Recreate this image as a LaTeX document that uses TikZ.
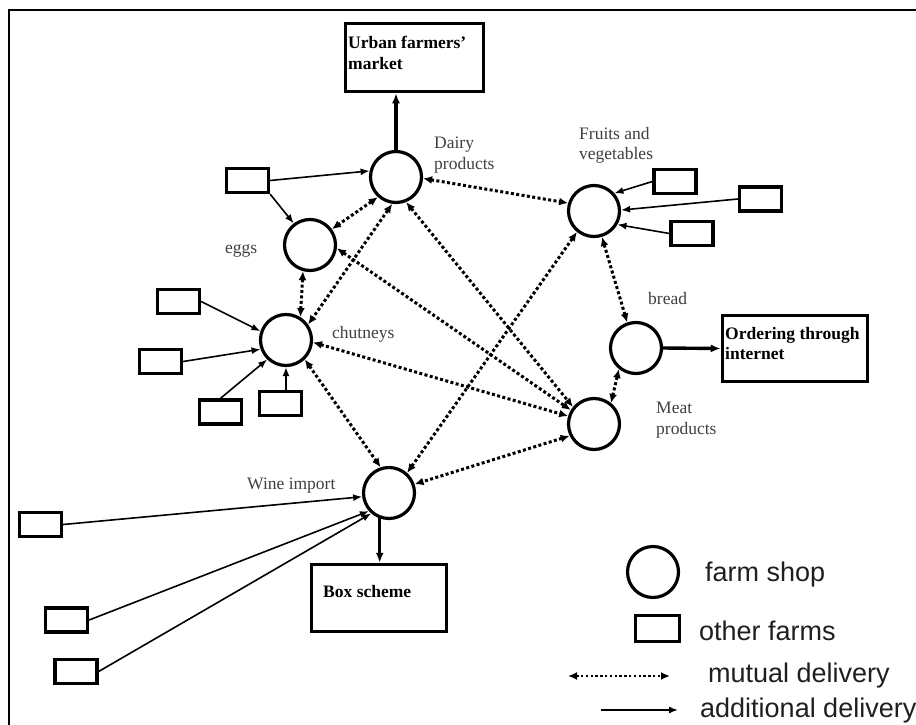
\documentclass[tikz,border=0pt]{standalone}
\usepackage{fontspec}
\setmainfont{Liberation Serif}
\newfontfamily\legendfont{Liberation Sans}
\usetikzlibrary{arrows.meta,calc}

\begin{document}
\begin{tikzpicture}[x=1pt,y=-1pt,
  shop/.style={circle,draw,line width=3.2pt,minimum size=51pt,inner sep=0pt},
  farm/.style={rectangle,draw,line width=3.3pt,minimum width=42pt,minimum height=24pt,inner sep=0pt},
  outlet/.style={rectangle,draw,line width=3.5pt,inner sep=0pt},
  mutual/.style={line width=3pt,dash pattern=on 3pt off 2.4pt,
    {Latex[length=9pt,width=8pt]}-{Latex[length=9pt,width=8pt]}},
  additional/.style={line width=1.6pt,-{Latex[length=9pt,width=7pt]}},
  output/.style={line width=3.4pt,-{Latex[length=10pt,width=8pt]}},
  lbl/.style={font=\fontsize{17.5}{20.5}\selectfont,text=black!75,align=left,inner sep=0pt},
  boxlbl/.style={font=\fontsize{17.5}{20.5}\selectfont\bfseries,align=left,inner sep=0pt,anchor=north west},
  legendtext/.style={font=\legendfont\fontsize{27}{30}\selectfont,text=black!88,anchor=base west,inner sep=0pt}
]
\useasboundingbox (0,0) rectangle (916,725);
\fill[white] (0,0) rectangle (916,725);

% frame
\draw[line width=2.4pt] (9,725) -- (9,10) -- (916,10);

% farm shops
\node[shop] (D) at (396,177) {};
\node[shop] (E) at (310,245) {};
\node[shop] (C) at (286,340) {};
\node[shop] (F) at (594,211) {};
\node[shop] (B) at (636,348) {};
\node[shop] (M) at (594,424) {};
\node[shop] (W) at (389,493) {};

% shop labels
\node[lbl,anchor=north west] at (434,137) {Dairy\\products};
\node[lbl,anchor=north west] at (579,127) {Fruits and\\vegetables};
\node[lbl,anchor=base west] at (225,253) {eggs};
\node[lbl,anchor=base west] at (332,338) {chutneys};
\node[lbl,anchor=base west] at (648,304) {bread};
\node[lbl,anchor=north west] at (656,402) {Meat\\products};
\node[lbl,anchor=base west] at (247,489) {Wine import};

% outlets
\node[outlet,minimum width=138pt,minimum height=68pt] (U) at (414.5,57.5) {};
\node[boxlbl] at (348,36) {Urban farmers'\\market};
\node[outlet,minimum width=145pt,minimum height=66pt] (O) at (795,348.5) {};
\node[boxlbl] at (725,327) {Ordering through\\internet};
\node[outlet,minimum width=135pt,minimum height=67pt] (BS) at (379,598) {};
\node[boxlbl] at (323,585) {Box scheme};

% other farms
\node[farm] (BDE) at (247.5,180.5) {};
\node[farm] (F1) at (675,181.5) {};
\node[farm] (F2) at (760.5,199) {};
\node[farm] (F3) at (692,233.5) {};
\node[farm] (C1) at (178.5,301.5) {};
\node[farm] (C2) at (160.5,361.5) {};
\node[farm] (C3) at (220.5,412) {};
\node[farm] (C4) at (280.5,403.5) {};
\node[farm] (W1) at (40.5,524.5) {};
\node[farm] (W2) at (66.5,620) {};
\node[farm] (W3) at (76,671.5) {};

% additional deliveries
\draw[additional] (BDE.east) -- (D.167);
\draw[additional] (BDE.south east) -- (E.127);
\draw[additional] (F1.west) -- (F.41);
\draw[additional] (F2.west) -- (F.2);
\draw[additional] (F3.west) -- (F.-30);
\draw[additional] (C1.east) -- (C.161);
\draw[additional] (C2.east) -- (C.200);
\draw[additional] (C3.north) -- (C.226);
\draw[additional] (C.south |- C4.north) -- (C.south);
\draw[additional] (W1.east) -- (W.188);
\draw[additional] (W2.east) -- (W.222);
\draw[additional] (W3.east) -- (W.229);

% mutual deliveries
\draw[mutual] (D.-3) -- (F.163);
\draw[mutual] (D.228) -- (E.36);
\draw[mutual] (D.262) -- (C.35);
\draw[mutual] (D.-68) -- (M.141);
\draw[mutual] (E.255) -- (C.58);
\draw[mutual] (E.-7) -- (M.149);
\draw[mutual] (C.-5) -- (M.163);
\draw[mutual] (C.-46) -- (W.108);
\draw[mutual] (F.231) -- (W.48);
\draw[mutual] (M.206) -- (W.19);
\draw[mutual] (F.-73) -- (B.109);
\draw[mutual] (B.231) -- (M.51);

% sales outlets
\draw[output] (D.north) -- (D.north |- U.south);
\draw[output] (B.east) -- (O.west);
\draw[output] (W.250) -- (W.250 |- BS.north);

% legend
\node[shop] (LS) at (653,572) {};
\node[legendtext] at (705,581) {farm shop};
\node[farm,minimum width=44pt,minimum height=26pt] (LF) at (657.5,628.5) {};
\node[legendtext] at (699,640) {other farms};
\coordinate (LMa) at (568,676);
\coordinate (LMb) at (670,676);
\draw[mutual,line width=2.4pt,dash pattern=on 2.4pt off 2.4pt] (LMa) -- (LMb);
\node[legendtext] at (708,682) {mutual delivery};
\coordinate (LAa) at (601,710);
\coordinate (LAb) at (678,710);
\draw[additional] (LAa) -- (LAb);
\node[legendtext] at (700,717) {additional delivery};
\end{tikzpicture}
\end{document}
